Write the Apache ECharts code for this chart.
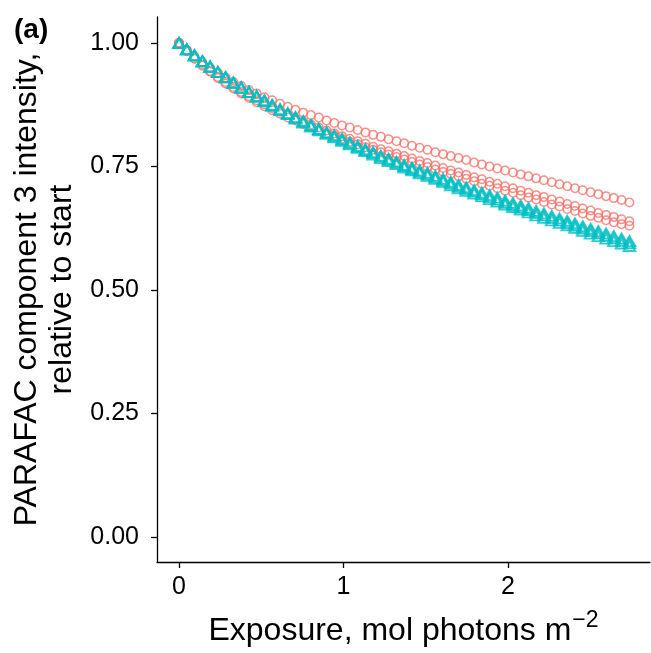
<!DOCTYPE html>
<html>
<head>
<meta charset="utf-8">
<script src="https://cdn.jsdelivr.net/npm/echarts@6/dist/echarts.min.js"></script>
<style>
  html, body { margin: 0; padding: 0; background: #fff; }
  #chart { width: 651px; height: 653px; }
</style>
</head>
<body>
<div id="chart"></div>
<script>
// exposure (mol photons m^-2) shared by all runs
const exposure = [
  0.000, 0.047, 0.094, 0.142, 0.189, 0.236, 0.283, 0.330, 0.378, 0.425,
  0.472, 0.519, 0.566, 0.614, 0.661, 0.708, 0.755, 0.802, 0.850, 0.897,
  0.944, 0.991, 1.038, 1.086, 1.133, 1.180, 1.227, 1.274, 1.322, 1.369,
  1.416, 1.463, 1.510, 1.558, 1.605, 1.652, 1.699, 1.746, 1.794, 1.841,
  1.888, 1.935, 1.982, 2.030, 2.077, 2.124, 2.171, 2.218, 2.266, 2.313,
  2.360, 2.407, 2.454, 2.502, 2.549, 2.596, 2.643, 2.690, 2.738
];

// red circles
const redA = [
  1.000, 0.986, 0.973, 0.961, 0.950, 0.940, 0.930, 0.921, 0.913, 0.905,
  0.898, 0.890, 0.884, 0.877, 0.871, 0.865, 0.859, 0.854, 0.849, 0.843,
  0.838, 0.833, 0.829, 0.824, 0.819, 0.814, 0.810, 0.805, 0.801, 0.797,
  0.792, 0.788, 0.784, 0.779, 0.775, 0.771, 0.767, 0.763, 0.758, 0.754,
  0.750, 0.746, 0.742, 0.738, 0.734, 0.730, 0.726, 0.722, 0.718, 0.714,
  0.710, 0.706, 0.702, 0.698, 0.694, 0.690, 0.686, 0.682, 0.677
];
const redB = [
  1.000, 0.984, 0.969, 0.956, 0.943, 0.931, 0.921, 0.911, 0.901, 0.892,
  0.884, 0.876, 0.868, 0.861, 0.854, 0.847, 0.841, 0.835, 0.829, 0.823,
  0.817, 0.811, 0.806, 0.801, 0.796, 0.790, 0.785, 0.781, 0.776, 0.771,
  0.766, 0.761, 0.757, 0.752, 0.747, 0.742, 0.738, 0.733, 0.728, 0.724,
  0.719, 0.715, 0.710, 0.706, 0.701, 0.697, 0.692, 0.688, 0.683, 0.679,
  0.674, 0.670, 0.665, 0.661, 0.656, 0.652, 0.648, 0.643, 0.639
];
const redC = [
  1.000, 0.984, 0.968, 0.954, 0.942, 0.929, 0.918, 0.908, 0.898, 0.889,
  0.880, 0.872, 0.864, 0.857, 0.849, 0.843, 0.836, 0.830, 0.823, 0.817,
  0.812, 0.806, 0.800, 0.795, 0.789, 0.784, 0.779, 0.774, 0.769, 0.764,
  0.759, 0.754, 0.749, 0.744, 0.739, 0.735, 0.730, 0.725, 0.720, 0.715,
  0.711, 0.706, 0.701, 0.697, 0.692, 0.687, 0.683, 0.678, 0.673, 0.669,
  0.664, 0.660, 0.655, 0.650, 0.646, 0.641, 0.637, 0.633, 0.630
];

// cyan triangles
const cyanA = [
  1.000, 0.987, 0.975, 0.963, 0.952, 0.941, 0.931, 0.920, 0.910, 0.901,
  0.893, 0.884, 0.875, 0.866, 0.858, 0.850, 0.842, 0.834, 0.826, 0.819,
  0.813, 0.806, 0.799, 0.792, 0.785, 0.779, 0.772, 0.766, 0.760, 0.753,
  0.748, 0.742, 0.737, 0.731, 0.725, 0.719, 0.713, 0.708, 0.702, 0.697,
  0.692, 0.687, 0.681, 0.676, 0.671, 0.666, 0.660, 0.655, 0.650, 0.645,
  0.640, 0.635, 0.629, 0.624, 0.619, 0.614, 0.609, 0.604, 0.599
];
const cyanB = [
  1.000, 0.987, 0.975, 0.963, 0.952, 0.941, 0.931, 0.920, 0.910, 0.901,
  0.892, 0.883, 0.874, 0.865, 0.857, 0.849, 0.841, 0.833, 0.825, 0.818,
  0.811, 0.804, 0.797, 0.790, 0.783, 0.777, 0.770, 0.764, 0.758, 0.751,
  0.745, 0.739, 0.734, 0.728, 0.722, 0.716, 0.710, 0.705, 0.699, 0.694,
  0.688, 0.683, 0.677, 0.672, 0.667, 0.662, 0.656, 0.651, 0.646, 0.641,
  0.636, 0.631, 0.625, 0.620, 0.615, 0.610, 0.605, 0.600, 0.595
];
const cyanC = [
  1.000, 0.987, 0.975, 0.963, 0.952, 0.941, 0.930, 0.919, 0.909, 0.900,
  0.891, 0.882, 0.873, 0.864, 0.856, 0.847, 0.839, 0.831, 0.823, 0.816,
  0.809, 0.802, 0.795, 0.788, 0.781, 0.774, 0.767, 0.761, 0.755, 0.748,
  0.742, 0.736, 0.731, 0.725, 0.719, 0.712, 0.706, 0.701, 0.695, 0.690,
  0.684, 0.679, 0.673, 0.668, 0.663, 0.657, 0.651, 0.646, 0.641, 0.636,
  0.631, 0.626, 0.620, 0.614, 0.609, 0.604, 0.599, 0.594, 0.589
];

const xTicks = [0, 1, 2];
const yTicks = [0, 0.25, 0.5, 0.75, 1];
const yTickLabels = ['0.00', '0.25', '0.50', '0.75', '1.00'];

const RED = '#F8766D';
const CYAN = '#00BFC4';
const FONT = '"Liberation Sans", Arial, Helvetica, sans-serif';

const toPoints = (ys) => exposure.map((x, i) => [x, ys[i]]);

const circleSeries = (ys) => ({
  type: 'scatter',
  data: toPoints(ys),
  symbol: 'circle',
  symbolSize: 8.5,
  itemStyle: { color: 'rgba(0,0,0,0)', borderColor: RED, borderWidth: 1.5 },
  silent: true
});

const triangleSeries = (ys) => ({
  type: 'scatter',
  data: toPoints(ys),
  symbol: 'triangle',
  symbolSize: [11.5, 10],
  itemStyle: { color: 'rgba(0,0,0,0)', borderColor: CYAN, borderWidth: 2 },
  silent: true
});

const chart = echarts.init(document.getElementById('chart'), null, { renderer: 'canvas' });

chart.setOption({
  animation: false,
  backgroundColor: '#fff',
  textStyle: { fontFamily: FONT },
  title: {
    text: '(a)',
    left: 14,
    top: 16,
    padding: 0,
    textStyle: { fontFamily: FONT, fontSize: 28, fontWeight: 'bold', color: '#000' }
  },
  grid: { left: 157, right: 1, top: 17, bottom: 91, outerBoundsMode: 'none' },
  xAxis: {
    type: 'value',
    min: -0.134,
    max: 2.863,
    name: '{t|Exposure, mol photons m}{sup|\u22122}',
    nameLocation: 'middle',
    nameGap: 47,
    nameTextStyle: {
      color: '#000',
      fontFamily: FONT,
      rich: {
        t: { fontSize: 32, fontFamily: FONT, color: '#000', verticalAlign: 'bottom' },
        sup: { fontSize: 23, fontFamily: FONT, color: '#000', padding: [0, 0, 15, 1], verticalAlign: 'bottom' }
      }
    },
    axisLine: { show: true, onZero: false, lineStyle: { color: '#000', width: 1.3 } },
    axisTick: { show: true, length: 6, lineStyle: { color: '#000', width: 1.3 }, customValues: xTicks },
    axisLabel: {
      show: true,
      margin: 13,
      fontSize: 25,
      fontFamily: FONT,
      color: '#000',
      customValues: xTicks,
      formatter: (v) => String(v)
    },
    splitLine: { show: false }
  },
  yAxis: {
    type: 'value',
    min: -0.0506,
    max: 1.0526,
    name: 'PARAFAC component 3 intensity,\nrelative to start',
    nameLocation: 'middle',
    nameRotate: 90,
    nameGap: 74,
    nameTextStyle: { fontSize: 32, lineHeight: 35, color: '#000', fontFamily: FONT },
    axisLine: { show: true, onZero: false, lineStyle: { color: '#000', width: 1.3 } },
    axisTick: { show: true, length: 6, lineStyle: { color: '#000', width: 1.3 }, customValues: yTicks },
    axisLabel: {
      show: true,
      margin: 18,
      fontSize: 25,
      fontFamily: FONT,
      color: '#000',
      customValues: yTicks,
      formatter: (v) => yTickLabels[yTicks.findIndex(t => Math.abs(t - v) < 1e-6)] ?? ''
    },
    splitLine: { show: false }
  },
  series: [
    circleSeries(redA),
    circleSeries(redB),
    circleSeries(redC),
    triangleSeries(cyanA),
    triangleSeries(cyanB),
    triangleSeries(cyanC)
  ]
});
</script>
</body>
</html>
